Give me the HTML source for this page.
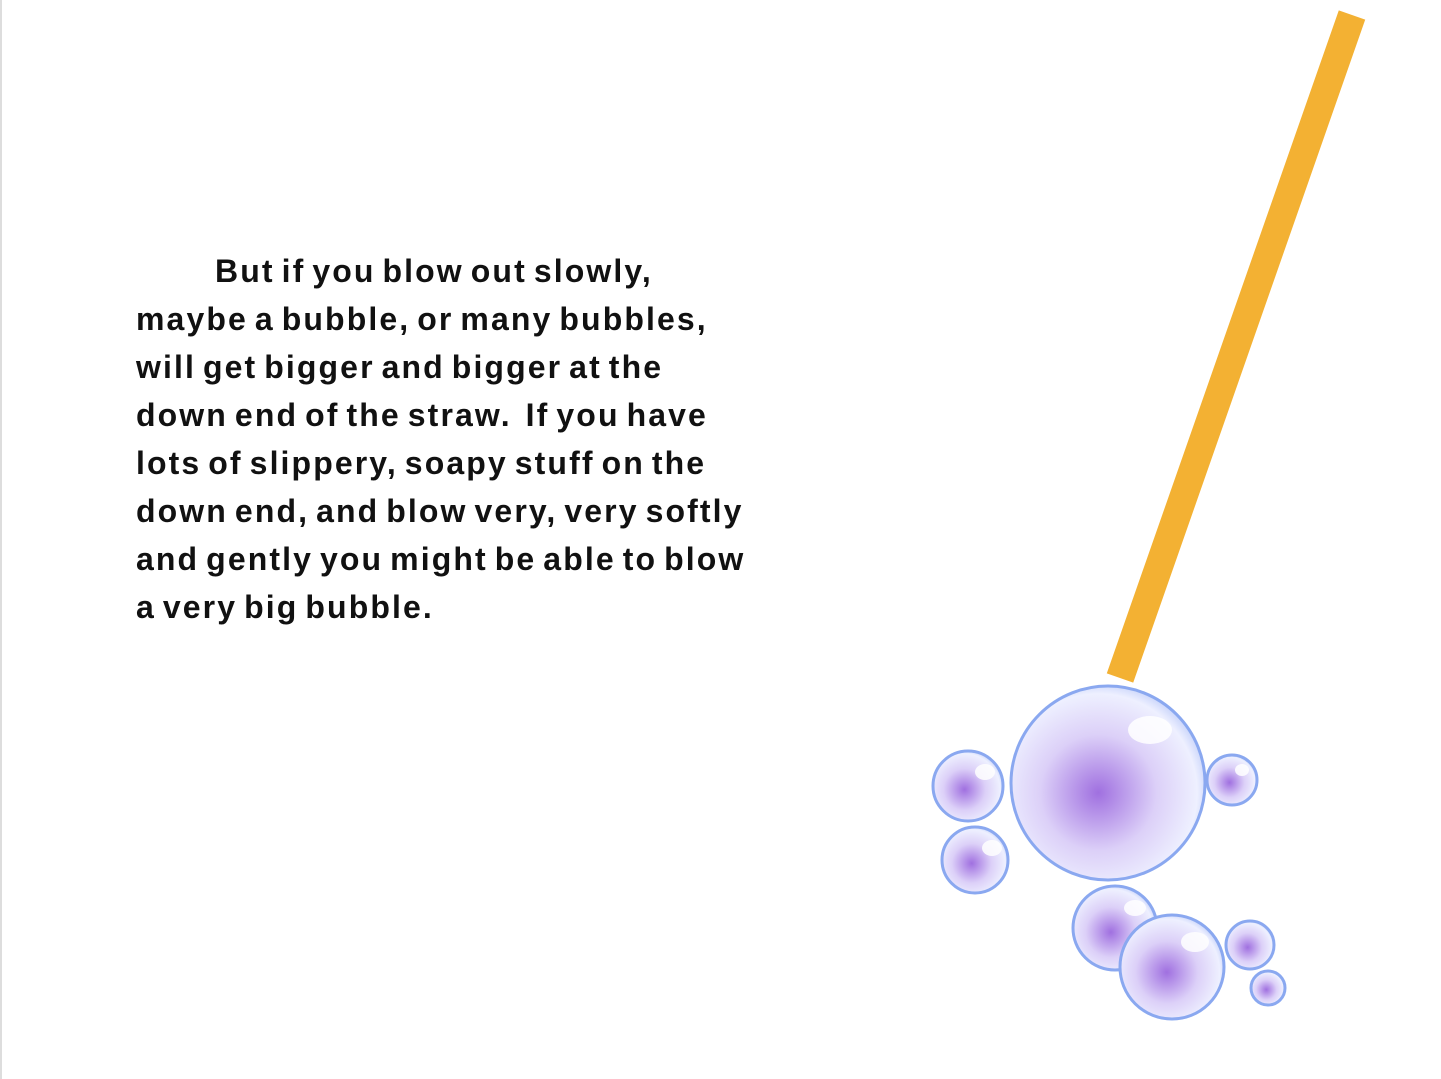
<!DOCTYPE html>
<html><head><meta charset="utf-8"><style>
html,body{margin:0;padding:0;background:#fff;}
body{width:1441px;height:1079px;position:relative;overflow:hidden;}
#txt{position:absolute;left:136px;top:247px;font-family:"Liberation Sans",sans-serif;font-weight:bold;font-size:32px;line-height:48px;color:#111;white-space:pre;letter-spacing:2.1px;word-spacing:-4px;}
svg{position:absolute;left:0;top:0;}
</style></head><body>
<div style="position:absolute;left:0;top:0;width:2px;height:1079px;background:#ddd"></div>
<div id="txt"><span style="padding-left:79px">But if you blow out slowly,</span>
maybe a bubble, or many bubbles,
will get bigger and bigger at the
down end of the straw.  If you have
lots of slippery, soapy stuff on the
down end, and blow very, very softly
and gently you might be able to blow
a very big bubble.</div>
<svg width="1441" height="1079">
<defs>
<radialGradient id="bg" cx="0.45" cy="0.55" r="0.6">
<stop offset="0" stop-color="#a070e0"/><stop offset="0.5" stop-color="#dcd0f8"/><stop offset="0.85" stop-color="#eef0ff"/><stop offset="1" stop-color="#b8c8f8"/>
</radialGradient>
</defs>
<line x1="1352" y1="15" x2="1120" y2="678" stroke="#f3b133" stroke-width="28"/>
<g stroke="#8aa8f0" stroke-width="3" fill="url(#bg)">
<circle cx="1108" cy="783" r="97"/>
<circle cx="968" cy="786" r="35"/>
<circle cx="975" cy="860" r="33"/>
<circle cx="1232" cy="780" r="25"/>
<circle cx="1115" cy="928" r="42"/>
<circle cx="1172" cy="967" r="52"/>
<circle cx="1250" cy="945" r="24"/>
<circle cx="1268" cy="988" r="17"/>
</g>
<g fill="#fff" opacity="0.85">
<ellipse cx="1150" cy="730" rx="22" ry="14"/>
<ellipse cx="985" cy="772" rx="10" ry="8"/>
<ellipse cx="992" cy="848" rx="10" ry="8"/>
<ellipse cx="1242" cy="770" rx="7" ry="6"/>
<ellipse cx="1195" cy="942" rx="14" ry="10"/>
<ellipse cx="1135" cy="908" rx="11" ry="8"/>
</g>
</svg>
</body></html>
